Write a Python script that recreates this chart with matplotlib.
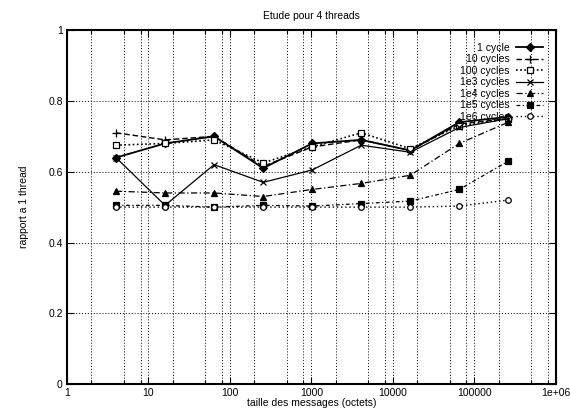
import numpy as np
import matplotlib.pyplot as plt
from matplotlib.ticker import LogLocator, NullFormatter

plt.rcParams['font.family'] = ['Liberation Sans', 'DejaVu Sans']

# message sizes (bytes) and ratio vs 1 thread, one list per cycle count
sizes = [4, 16, 64, 256, 1024, 4096, 16384, 65536, 262144]
c1 = [0.64, 0.68, 0.70, 0.61, 0.68, 0.69, 0.66, 0.74, 0.755]
c10 = [0.71, 0.69, 0.70, 0.615, 0.67, 0.69, 0.66, 0.735, 0.75]
c100 = [0.675, 0.68, 0.69, 0.625, 0.67, 0.71, 0.665, 0.73, 0.75]
c1e3 = [0.64, 0.505, 0.62, 0.57, 0.605, 0.675, 0.655, 0.725, 0.75]
c1e4 = [0.545, 0.54, 0.54, 0.53, 0.55, 0.567, 0.59, 0.68, 0.74]
c1e5 = [0.505, 0.505, 0.50, 0.505, 0.503, 0.51, 0.517, 0.55, 0.63]
c1e6 = [0.50, 0.50, 0.50, 0.50, 0.50, 0.50, 0.50, 0.503, 0.52]

labels = ['1 cycle', '10 cycles', '100 cycles', '1e3 cycles',
          '1e4 cycles', '1e5 cycles', '1e6 cycles']
series = [c1, c10, c100, c1e3, c1e4, c1e5, c1e6]

styles = [
    dict(ls='-', marker='D', mfc='black', ms=4, lw=1.3),
    dict(ls=(0, (4, 2)), marker='+', ms=6, lw=1.0),
    dict(ls=(0, (1, 1.5)), marker='s', mfc='white', ms=4.5, lw=1.2),
    dict(ls='-', marker='x', ms=4.5, lw=0.9),
    dict(ls=(0, (5, 2, 1, 2)), marker='^', mfc='black', ms=4, lw=0.9),
    dict(ls=(0, (3, 2, 1, 2)), marker='s', mfc='black', ms=4, lw=0.9),
    dict(ls=(0, (1, 2)), marker='o', mfc='white', ms=4, lw=1.0),
]

fig = plt.figure(figsize=(5.7, 4.13), dpi=100)
ax = fig.add_axes([0.1175, 0.07, 0.8575, 0.857])

for ys, lab, st in zip(series, labels, styles):
    ax.plot(sizes, ys, color='black', mec='black', mew=0.9, label=lab, **st)

ax.set_xscale('log')
ax.set_xlim(1, 1e6)
ax.set_ylim(0, 1)

ax.xaxis.set_minor_locator(LogLocator(base=10, subs=(2, 5, 8), numticks=20))
ax.xaxis.set_minor_formatter(NullFormatter())
ax.set_xticks([1, 10, 100, 1000, 10000, 100000, 1e6])
ax.set_xticklabels(['1', '10', '100', '1000', '10000', '100000', '1e+06'])
ax.set_yticks([0, 0.2, 0.4, 0.6, 0.8, 1])
ax.set_yticklabels(['0', '0.2', '0.4', '0.6', '0.8', '1'])

ax.tick_params(which='both', direction='in', top=True, right=True,
               labelsize=7.5, width=0.8, pad=3)
ax.tick_params(which='major', length=5)
ax.tick_params(which='minor', length=3)

ax.grid(True, which='both', axis='x', color='black', ls=(0, (1, 2)), lw=0.7)
ax.grid(True, which='major', axis='y', color='black', ls=(0, (1, 2)), lw=0.7)

for sp in ax.spines.values():
    sp.set_linewidth(1.5)

ax.set_title('Etude pour 4 threads', fontsize=7.5, pad=8)
ax.set_xlabel('taille des messages (octets)', fontsize=7.5, labelpad=0)
ax.set_ylabel('rapport a 1 thread', fontsize=7.5, labelpad=14)

# text on the left, sample on the right, entries flush right
ax.legend(loc='upper right', fontsize=7.5, frameon=False,
          markerfirst=False, handlelength=2.6, handletextpad=0.6,
          labelspacing=0.15, borderaxespad=0.8)

fig.savefig('out.png', dpi=100)
